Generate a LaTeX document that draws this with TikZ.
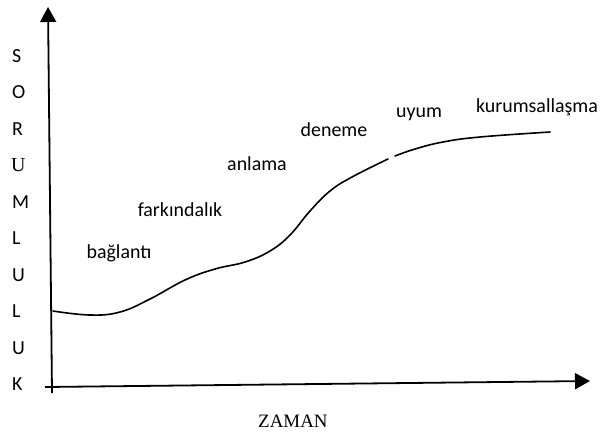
\documentclass[tikz,border=0pt]{standalone}
\usepackage{fontspec}
\setmainfont{Carlito}
\newfontfamily\serifface{Liberation Serif}
\usetikzlibrary{arrows.meta}
\begin{document}
\begin{tikzpicture}[x=1bp,y=-1bp,
  axisline/.style={line width=1.8bp, -{Triangle[width=16bp,length=15bp]}},
  curveline/.style={line width=1.6bp, line cap=round},
  lbl/.style={font=\fontsize{20}{24}\selectfont, inner sep=0pt, anchor=base},
  ylet/.style={font=\fontsize{20}{24}\selectfont, inner sep=0pt, anchor=base west}]
\useasboundingbox (0,0) rectangle (606,432);
% axes
\coordinate (ybot) at (52,393);
\coordinate (ytop) at (48,7);
\coordinate (xl) at (45,387);
\coordinate (xr) at (590,381);
\draw[axisline] (ybot) -- (ytop);
\draw[axisline] (xl) -- (xr);
% curve
\draw[curveline] plot[smooth, tension=0.7] coordinates {(53,311) (90,315) (120,312) (150,299) (185,280) (215,269) (245,262) (270,251) (290,235) (310,211) (330,191) (352,177) (388,159)};
\draw[curveline] plot[smooth, tension=0.7] coordinates {(395,156) (415,149) (443,142) (480,137) (550,132)};
% stage labels
\node[lbl] (l1) at (119,258) {bağlantı};
\node[lbl] (l2) at (180,216) {farkındalık};
\node[lbl] (l3) at (257,170) {anlama};
\node[lbl] (l4) at (334,136) {deneme};
\node[lbl] (l5) at (419,117) {uyum};
\node[lbl] (l6) at (537,112) {kurumsallaşma};
% vertical axis letters
\node[ylet] (s1) at (12,62) {S};
\node[ylet] (s2) at (12,98.5) {O};
\node[ylet] (s3) at (12,135) {R};
\node[ylet, font=\serifface\fontsize{20}{24}\selectfont] (s4) at (11,171.5) {U};
\node[ylet] (s5) at (12,208) {M};
\node[ylet] (s6) at (12,244.5) {L};
\node[ylet] (s7) at (12,281) {U};
\node[ylet] (s8) at (12,317.5) {L};
\node[ylet] (s9) at (12,354) {U};
\node[ylet] (s10) at (12,390.5) {K};
% horizontal axis title
\node[inner sep=0pt, anchor=base west, font=\serifface\fontsize{19}{23}\selectfont] (zaman) at (258,427) {ZAMAN};
\end{tikzpicture}
\end{document}
